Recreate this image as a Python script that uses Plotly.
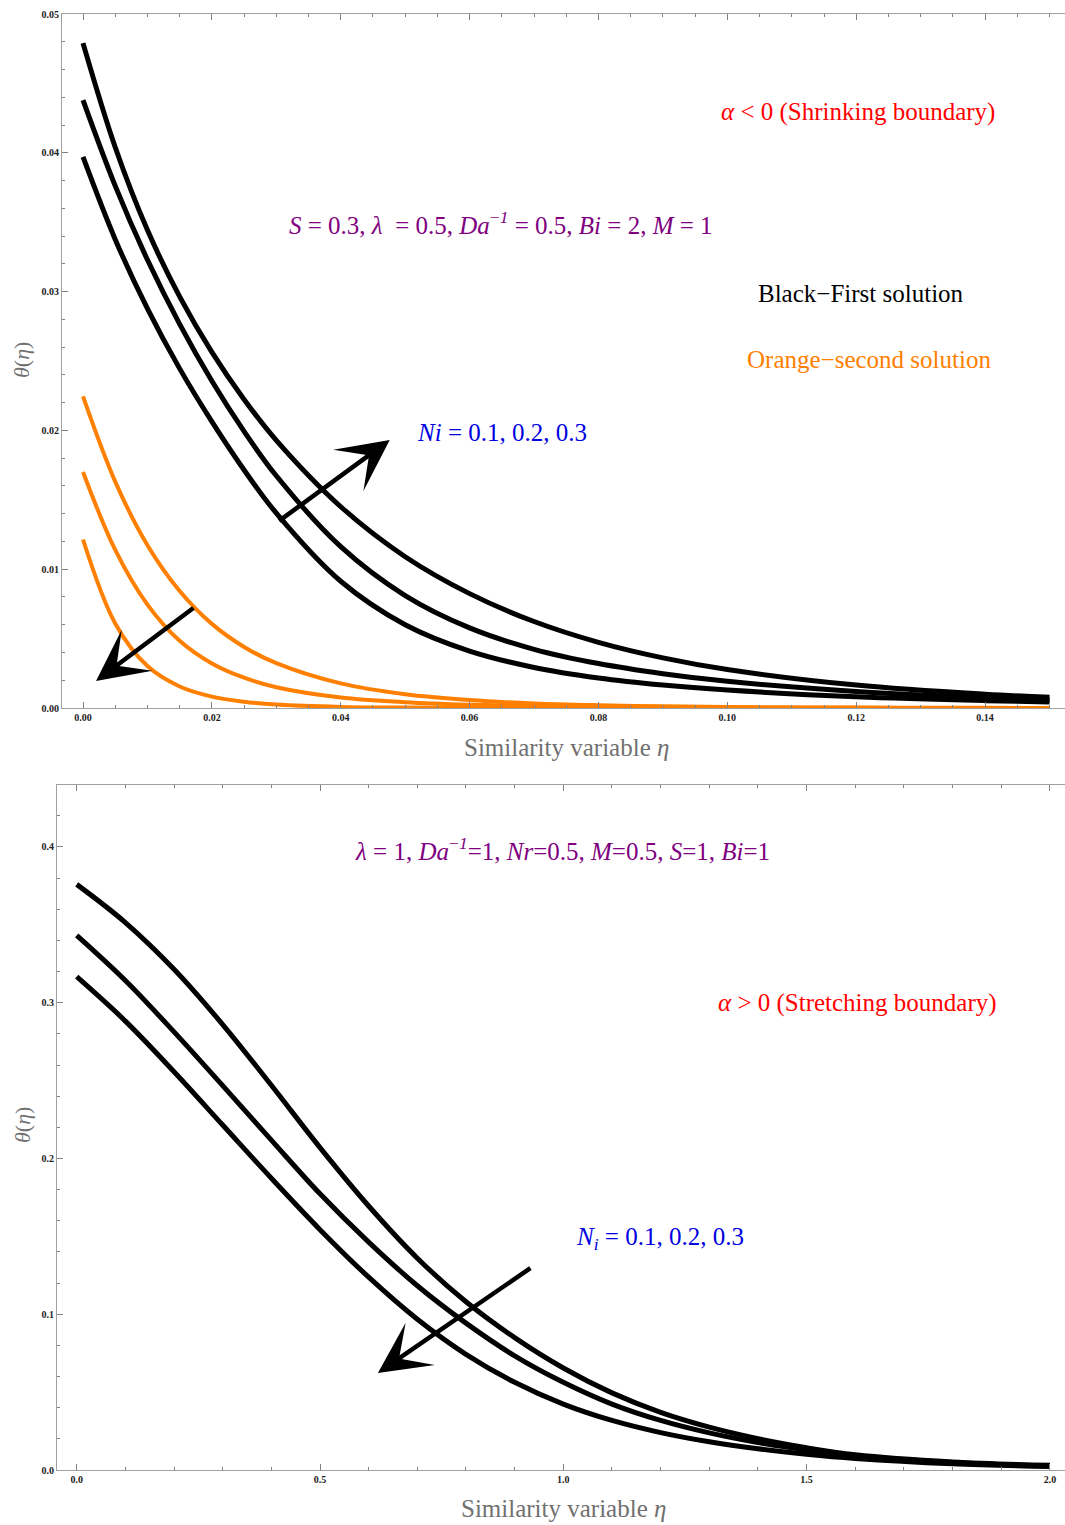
import plotly.graph_objects as go

# ---------------- data: shrinking boundary (alpha < 0) ----------------
eta_top = [0, 0.005, 0.01, 0.015, 0.02, 0.025, 0.03, 0.04, 0.05, 0.06,
           0.07, 0.08, 0.09, 0.10, 0.12, 0.14, 0.15]

# first solution (black), Ni = 0.1, 0.2, 0.3
first_ni01 = [0.0397, 0.03376, 0.02877, 0.02445, 0.02063, 0.01715, 0.01404, 0.00913, 0.00600,
              0.00410, 0.00292, 0.00216, 0.00165, 0.00129, 0.00081, 0.00053, 0.00044]
first_ni02 = [0.0438, 0.03762, 0.03229, 0.02766, 0.02356, 0.01993, 0.01673, 0.01162, 0.00810,
              0.00577, 0.00423, 0.00320, 0.00247, 0.00192, 0.00119, 0.00074, 0.00059]
first_ni03 = [0.0479, 0.0404, 0.03443, 0.02964, 0.02564, 0.02223, 0.01928, 0.01450, 0.01090,
              0.00824, 0.00623, 0.00473, 0.00361, 0.00277, 0.00165, 0.00099, 0.00077]

# second solution (orange), Ni = 0.1, 0.2, 0.3
second_ni01 = [0.02245, 0.01631, 0.01173, 0.00843, 0.00606, 0.00440, 0.00323, 0.00177, 0.00099,
               0.00057, 0.00033, 0.00020, 0.00012, 0.00007, 0.00003, 0.00001, 0.0]
second_ni02 = [0.0170, 0.01139, 0.00745, 0.00484, 0.00321, 0.00218, 0.00150, 0.00076, 0.00042,
               0.00024, 0.00015, 0.00009, 0.00005, 0.00003, 0.00001, 0.0, 0.0]
second_ni03 = [0.01214, 0.00609, 0.00302, 0.00155, 0.00082, 0.00045, 0.00025, 0.00008, 0.00003,
               0.00001, 0.0, 0.0, 0.0, 0.0, 0.0, 0.0, 0.0]

# ---------------- data: stretching boundary (alpha > 0) ----------------
eta_bot = [0, 0.1, 0.2, 0.3, 0.4, 0.5, 0.6, 0.7, 0.8, 0.9, 1.0, 1.1, 1.2, 1.3,
           1.4, 1.5, 1.6, 1.8, 2.0]
stretch_ni01 = [0.376, 0.3515, 0.3215, 0.286, 0.247, 0.207, 0.1695, 0.136, 0.108, 0.085,
                0.0655, 0.0495, 0.037, 0.0275, 0.0201, 0.0143, 0.0098, 0.0052, 0.0030]
stretch_ni02 = [0.3433, 0.3143, 0.2813, 0.2468, 0.2118, 0.1773, 0.1463, 0.1183, 0.0943, 0.0733,
                0.0563, 0.0423, 0.0318, 0.0238, 0.0176, 0.0128, 0.0091, 0.0048, 0.0026]
stretch_ni03 = [0.3167, 0.2882, 0.2557, 0.2215, 0.1873, 0.1543, 0.1238, 0.0968, 0.0743, 0.0563,
                0.0423, 0.0318, 0.0240, 0.0181, 0.0136, 0.0101, 0.0074, 0.0040, 0.0022]

top_xticks = [0.00, 0.02, 0.04, 0.06, 0.08, 0.10, 0.12, 0.14]
top_yticks = [0.00, 0.01, 0.02, 0.03, 0.04, 0.05]
bot_xticks = [0.0, 0.5, 1.0, 1.5, 2.0]
bot_yticks = [0.0, 0.1, 0.2, 0.3, 0.4]

# ---------------- styling ----------------
W, H = 1065, 1525
SERIF = "Liberation Serif, Times New Roman, serif"
BLACK = "#000000"
ORANGE = "#ff8000"
PURPLE = "#800080"
RED = "#ff0000"
BLUE = "#0000e0"
AXIS_GREY = "#a0a0a0"
TITLE_GREY = "#707070"


def px(x):
    return x / W


def py(y):
    return 1 - y / H


fig = go.Figure()

for ys in (first_ni01, first_ni02, first_ni03):
    fig.add_trace(go.Scatter(x=eta_top, y=ys, mode="lines", xaxis="x", yaxis="y",
                             line=dict(color=BLACK, width=5, shape="spline", smoothing=1.0),
                             showlegend=False, hoverinfo="skip"))
for ys in (second_ni01, second_ni02, second_ni03):
    fig.add_trace(go.Scatter(x=eta_top, y=ys, mode="lines", xaxis="x", yaxis="y",
                             line=dict(color=ORANGE, width=4, shape="spline", smoothing=1.0),
                             showlegend=False, hoverinfo="skip"))
for ys in (stretch_ni01, stretch_ni02, stretch_ni03):
    fig.add_trace(go.Scatter(x=eta_bot, y=ys, mode="lines", xaxis="x2", yaxis="y2",
                             line=dict(color=BLACK, width=5, shape="spline", smoothing=1.0),
                             showlegend=False, hoverinfo="skip"))


def axis_style(domain, rng, tickvals, fmt, minor_dtick, anchor, mirror):
    return dict(
        domain=domain, range=rng, anchor=anchor,
        tickmode="array", tickvals=tickvals, ticktext=[fmt.format(v) for v in tickvals],
        ticks="inside", ticklen=6, tickwidth=1, tickcolor="#808080",
        minor=dict(dtick=minor_dtick, ticks="inside", ticklen=3, tickwidth=1, tickcolor="#808080"),
        showline=True, linecolor=AXIS_GREY, linewidth=1.2, mirror=mirror,
        showgrid=False, zeroline=False,
        tickfont=dict(family=SERIF, size=10, color="#222222", weight="bold"),
        automargin=False, fixedrange=True,
    )


top_y_dom = [py(708), py(14)]
bot_y_dom = [py(1470), py(785)]

fig.update_layout(
    width=W, height=H,
    margin=dict(l=0, r=0, t=0, b=0),
    paper_bgcolor="white", plot_bgcolor="white",
    xaxis=axis_style([px(62), 1.0], [-0.00326, 0.1524], top_xticks, "{:.2f}", 0.005, "y", "allticks"),
    yaxis=axis_style(top_y_dom, [0, 0.05], top_yticks, "{:.2f}", 0.002, "x", False),
    xaxis2=axis_style([px(57), 1.0], [-0.0405, 2.031], bot_xticks, "{:.1f}", 0.1, "y2", "allticks"),
    yaxis2=axis_style(bot_y_dom, [0, 0.4398], bot_yticks, "{:.1f}", 0.02, "x2", False),
)

ann = []


def label(x, y, text, color, size=25):
    ann.append(dict(x=px(x), y=py(y), xref="paper", yref="paper", text=text,
                    showarrow=False, xanchor="center", yanchor="middle",
                    font=dict(family=SERIF, size=size, color=color)))


# upper panel texts
label(858, 112, "<i>α</i> < 0 (Shrinking boundary)", RED)
label(501, 223, "<i>S</i> = 0.3, <i>λ</i>  = 0.5, <i>Da</i><sup>−<i>1</i></sup> = 0.5, "
                "<i>Bi</i> = 2, <i>M</i> = 1", PURPLE)
label(861, 293, "Black−First solution", BLACK)
label(869, 360, "Orange−second solution", ORANGE)
label(502, 432, "<i>Ni</i> = 0.1, 0.2, 0.3", BLUE)

# lower panel texts
label(562, 849, "<i>λ</i> = 1, <i>Da</i><sup>−<i>1</i></sup>=1, <i>Nr</i>=0.5, "
                "<i>M</i>=0.5, <i>S</i>=1, <i>Bi</i>=1", PURPLE)
label(857, 1003, "<i>α</i> > 0 (Stretching boundary)", RED)
label(660, 1238, "<i>N<sub>i</sub></i> = 0.1, 0.2, 0.3", BLUE)

# axis titles
for yc in (360, 1125):
    ann.append(dict(x=px(22), y=py(yc), xref="paper", yref="paper",
                    text="<i>θ</i>(<i>η</i>)", showarrow=False, textangle=-90,
                    xanchor="center", yanchor="middle",
                    font=dict(family=SERIF, size=22, color=TITLE_GREY)))
label(566, 748, "Similarity variable <i>η</i>", TITLE_GREY, size=25)
label(563, 1508, "Similarity variable <i>η</i>", TITLE_GREY, size=25)


def arrow(xref, yref, tail, tip):
    ann.append(dict(x=tip[0], y=tip[1], ax=tail[0], ay=tail[1],
                    xref=xref, yref=yref, axref=xref, ayref=yref,
                    text="", showarrow=True, arrowhead=3, arrowsize=1.9,
                    arrowwidth=4.5, arrowcolor=BLACK, standoff=0, startstandoff=0))


arrow("x", "y", (0.0302, 0.0134), (0.0476, 0.0193))
arrow("x", "y", (0.01736, 0.00728), (0.00202, 0.00195))
arrow("x2", "y2", (0.9355, 0.1303), (0.619, 0.0623))

fig.update_layout(annotations=ann)

fig.write_html("out.html")
